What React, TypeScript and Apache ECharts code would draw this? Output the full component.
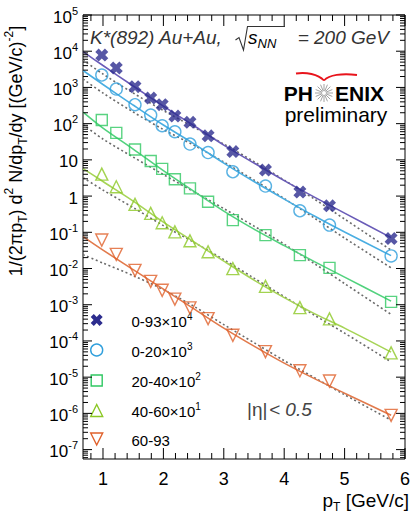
import React, { useEffect, useRef } from "react";
import * as echarts from "echarts";

// Transverse-momentum bins (GeV/c)
const PT = [0.98, 1.22, 1.53, 1.79, 1.98, 2.19, 2.44, 2.74, 3.15, 3.69, 4.26, 4.75, 5.77];

// Invariant yields per centrality class (already scaled as in the legend)
const Y_0_93 = [7850, 3440, 1045, 509, 333, 162, 108.6, 46.3, 16.9, 5.23, 1.29, 0.54, 0.067];
const Y_0_20 = [2200, 903, 333, 173, 87.5, 59.7, 27.3, 15.9, 4.69, 1.89, 0.393, 0.158, 0.0223];
const Y_20_40 = [125.7, 55.7, 19.3, 9.27, 5.64, 2.91, 1.63, 0.697, 0.217, 0.0837, 0.0234, 0.0104, 0.0012];
const Y_40_60 = [4.05, 1.81, 0.59, 0.333, 0.183, 0.103, 0.0582, 0.0289, 0.00993, 0.00322, 0.000832, 0.000406, 0.0000469];
const Y_60_93 = [0.061, 0.0245, 0.00891, 0.00441, 0.0025, 0.00143, 0.00082, 0.000413, 0.000143, 0.0000506, 0.000015, 0.0000078, 8.81e-7];

// Fit curves (solid) and reference curves (dotted), sampled at these pT values
const CURVE_PT = [0.67, 1.0, 1.5, 2.0, 2.5, 3.0, 3.5, 4.0, 4.5, 5.0, 5.77];
const FIT_0_93 = [9690, 4030, 1094, 306, 88.7, 25.6, 8.16, 2.68, 0.938, 0.339, 0.0714];
const FIT_0_20 = [2930, 1203, 326.5, 91.5, 28.2, 8.16, 2.52, 0.826, 0.2805, 0.1014, 0.0227];
const FIT_20_40 = [209, 75.6, 19.9, 5.06, 1.374, 0.385, 0.1225, 0.0429, 0.01552, 0.00578, 0.001256];
const FIT_40_60 = [5.75, 2.52, 0.728, 0.1914, 0.0553, 0.016, 0.00479, 0.00157, 0.000568, 0.000226, 0.0000491];
const FIT_60_93 = [0.076, 0.0322, 0.00933, 0.0027, 0.00078, 0.000226, 0.0000718, 0.0000244, 0.0000091, 0.00000361, 8.91e-7];
const REF_0_93 = [5710, 2345, 700, 230, 80.5, 27.3, 8.97, 2.77, 0.826, 0.232, 0.0322];
const REF_0_20 = [1706, 700, 209, 68.7, 25.6, 8.69, 2.77, 0.853, 0.247, 0.0692, 0.01045];
const REF_20_40 = [94.4, 37.6, 11.94, 3.93, 1.33, 0.452, 0.1483, 0.0472, 0.01365, 0.00383, 0.00054];
const REF_40_60 = [3.24, 1.466, 0.481, 0.1531, 0.0536, 0.0176, 0.00543, 0.00167, 0.000516, 0.000164, 0.0000265];
const REF_60_93 = [0.0242, 0.0141, 0.00637, 0.00261, 0.000914, 0.000282, 0.0000897, 0.0000286, 0.00000968, 0.00000329, 6.49e-7];

// Legend labels: text and power-of-ten superscript
const LABELS = ["0-93×10", "0-20×10", "20-40×10", "40-60×10", "60-93"];
const LABEL_EXP = ["4", "3", "2", "1", ""];

// Axis ranges and ticks
const X_MIN = 0.669;
const X_MAX = 6;
const Y_MIN = 5.5e-8;
const Y_MAX = 1e5;
const X_MAJOR = [1, 2, 3, 4, 5, 6];
const X_MINOR = [0.8, 1.2, 1.4, 1.6, 1.8, 2.2, 2.4, 2.6, 2.8, 3.2, 3.4, 3.6, 3.8, 4.2, 4.4, 4.6, 4.8, 5.2, 5.4, 5.6, 5.8];
const Y_DECADES = [-7, -6, -5, -4, -3, -2, -1, 0, 1, 2, 3, 4, 5];

const FONT = '"Liberation Sans", Arial, Helvetica, sans-serif';

const CROSS = "path://M0,2.6L2.6,0L5,2.4L7.4,0L10,2.6L7.6,5L10,7.4L7.4,10L5,7.6L2.6,10L0,7.4L2.4,5Z";

const STYLES = [
  { marker: "#2d2d8e", line: "#6a5cb8", symbol: CROSS, size: 13, filled: true, rotate: 0 },
  { marker: "#2f9fdc", line: "#4aaee2", symbol: "circle", size: 12, filled: false, rotate: 0 },
  { marker: "#2fc862", line: "#52d27e", symbol: "rect", size: 11, filled: false, rotate: 0 },
  { marker: "#8cc826", line: "#a6d456", symbol: "triangle", size: 12, filled: false, rotate: 0 },
  { marker: "#e0602a", line: "#e27a4c", symbol: "triangle", size: 12, filled: false, rotate: 180 },
];

const POINTS = [Y_0_93, Y_0_20, Y_20_40, Y_40_60, Y_60_93];
const FITS = [FIT_0_93, FIT_0_20, FIT_20_40, FIT_40_60, FIT_60_93];
const REFS = [REF_0_93, REF_0_20, REF_20_40, REF_40_60, REF_60_93];

type Tick = { v: number; major: boolean; d?: number };

const X_TICKS: Tick[] = [
  ...X_MAJOR.map((v) => ({ v, major: true })),
  ...X_MINOR.map((v) => ({ v, major: false })),
];

const Y_TICKS: Tick[] = (() => {
  const out: Tick[] = [];
  for (const d of Y_DECADES) {
    out.push({ v: Math.pow(10, d), major: true, d });
  }
  for (let d = -8; d <= 4; d++) {
    for (let m = 2; m <= 9; m++) {
      const v = m * Math.pow(10, d);
      if (v > Y_MIN && v < Y_MAX) out.push({ v, major: false });
    }
  }
  return out;
})();

const supRich = {
  b: { fontSize: 17, fontFamily: FONT, color: "#000", lineHeight: 24, verticalAlign: "middle" },
  s: { fontSize: 11, fontFamily: FONT, color: "#000", lineHeight: 11, verticalAlign: "top" },
};

function yLabel(d: number): string {
  if (d === 0) return "{b|1}";
  if (d === 1) return "{b|10}";
  return "{b|10}{s|" + d + "}";
}

export default function App() {
  const ref = useRef<HTMLDivElement>(null);

  useEffect(() => {
    if (!ref.current) return;
    const chart = echarts.init(ref.current, undefined, { renderer: "svg" });

    const series: any[] = [];
    STYLES.forEach((st, i) => {
      series.push({
        type: "line",
        name: "fit" + i,
        data: CURVE_PT.map((x, k) => [x, FITS[i][k]]),
        showSymbol: false,
        smooth: 0.3,
        lineStyle: { color: st.line, width: 1.6 },
        z: 3,
      });
      series.push({
        type: "line",
        name: "ref" + i,
        data: CURVE_PT.map((x, k) => [x, REFS[i][k]]),
        showSymbol: false,
        smooth: 0.3,
        lineStyle: { color: "#6a6a6a", width: 1.6, type: [2, 2.6] },
        z: 2,
      });
    });
    STYLES.forEach((st, i) => {
      series.push({
        type: "scatter",
        name: LABELS[i] + LABEL_EXP[i],
        data: PT.map((x, k) => [x, POINTS[i][k]]),
        symbol: st.symbol,
        symbolSize: st.size,
        symbolRotate: st.rotate,
        itemStyle: st.filled
          ? { color: st.marker }
          : { color: "rgba(255,255,255,0)", borderColor: st.marker, borderWidth: 1.4 },
        z: 5,
      });
    });

    // frame ticks on the x axis (bottom and top) with labels
    series.push({
      type: "custom",
      name: "xticks",
      clip: false,
      silent: true,
      z: 10,
      data: X_TICKS.map((t) => [t.v, Y_MIN]),
      renderItem: (params: any, api: any) => {
        const t = X_TICKS[params.dataIndex];
        const b = api.coord([t.v, Y_MIN]);
        const top = api.coord([t.v, Y_MAX]);
        const len = t.major ? 11 : 6;
        const ls = { stroke: "#000", lineWidth: 1 };
        const children: any[] = [
          { type: "line", shape: { x1: b[0], y1: b[1], x2: b[0], y2: b[1] - len }, style: ls },
          { type: "line", shape: { x1: top[0], y1: top[1], x2: top[0], y2: top[1] + len }, style: ls },
        ];
        if (t.major) {
          children.push({
            type: "text",
            x: b[0],
            y: b[1] + 20,
            style: { text: String(t.v), font: "18px " + FONT, fill: "#000", align: "center", verticalAlign: "middle" },
          });
        }
        return { type: "group", children };
      },
    });

    // frame ticks on the y axis (left and right) with decade labels
    series.push({
      type: "custom",
      name: "yticks",
      clip: false,
      silent: true,
      z: 10,
      data: Y_TICKS.map((t) => [X_MIN, t.v]),
      renderItem: (params: any, api: any) => {
        const t = Y_TICKS[params.dataIndex];
        const l = api.coord([X_MIN, t.v]);
        const r = api.coord([X_MAX, t.v]);
        const len = t.major ? 9 : 5;
        const ls = { stroke: "#000", lineWidth: 1 };
        const children: any[] = [
          { type: "line", shape: { x1: l[0], y1: l[1], x2: l[0] + len, y2: l[1] }, style: ls },
          { type: "line", shape: { x1: r[0], y1: r[1], x2: r[0] - len, y2: r[1] }, style: ls },
        ];
        if (t.major && t.d !== undefined) {
          children.push({
            type: "text",
            x: l[0] - 5,
            y: l[1] + 2,
            style: { text: yLabel(t.d), rich: supRich, align: "right", verticalAlign: "middle" },
          });
        }
        return { type: "group", children };
      },
    });

    const titleRich = {
      b: { fontSize: 18, fontFamily: FONT, color: "#000", lineHeight: 26, verticalAlign: "middle" },
      sub: { fontSize: 12, fontFamily: FONT, color: "#000", lineHeight: 12, verticalAlign: "bottom" },
      sup: { fontSize: 12, fontFamily: FONT, color: "#000", lineHeight: 12, verticalAlign: "top" },
    };

    const legendRich = {
      t: { fontSize: 15, fontFamily: FONT, color: "#000", lineHeight: 20, verticalAlign: "middle" },
      s: { fontSize: 10, fontFamily: FONT, color: "#000", lineHeight: 10, verticalAlign: "top" },
    };

    const LEG_X = 96.7;
    const LEG_Y = [320, 350, 380.5, 410.5, 439];
    const legend: any[] = [];
    const lx = (dx: number) => LEG_X + dx;
    // cross
    legend.push({
      type: "polygon",
      shape: {
        points: [
          [0, 2.6], [2.6, 0], [5, 2.4], [7.4, 0], [10, 2.6], [7.6, 5], [10, 7.4], [7.4, 10], [5, 7.6], [2.6, 10], [0, 7.4], [2.4, 5],
        ].map((p) => [lx((p[0] - 5) * 1.2), LEG_Y[0] + (p[1] - 5) * 1.2]),
      },
      style: { fill: STYLES[0].marker },
    });
    legend.push({ type: "circle", shape: { cx: LEG_X, cy: LEG_Y[1], r: 6 }, style: { fill: "none", stroke: STYLES[1].marker, lineWidth: 1.4 } });
    legend.push({ type: "rect", shape: { x: LEG_X - 5.5, y: LEG_Y[2] - 5.5, width: 11, height: 11 }, style: { fill: "none", stroke: STYLES[2].marker, lineWidth: 1.4 } });
    legend.push({ type: "polygon", shape: { points: [[LEG_X, LEG_Y[3] - 6], [LEG_X + 6, LEG_Y[3] + 6], [LEG_X - 6, LEG_Y[3] + 6]] }, style: { fill: "none", stroke: STYLES[3].marker, lineWidth: 1.4 } });
    legend.push({ type: "polygon", shape: { points: [[LEG_X - 6, LEG_Y[4] - 6], [LEG_X + 6, LEG_Y[4] - 6], [LEG_X, LEG_Y[4] + 6]] }, style: { fill: "none", stroke: STYLES[4].marker, lineWidth: 1.4 } });
    LABELS.forEach((lab, i) => {
      legend.push({
        type: "text",
        x: 131.5,
        y: LEG_Y[i] + 1,
        style: {
          text: "{t|" + lab + "}" + (LABEL_EXP[i] ? "{s|" + LABEL_EXP[i] + "}" : ""),
          rich: legendRich,
          align: "left",
          verticalAlign: "middle",
        },
      });
    });

    // star of the logo
    const spokes: any[] = [];
    for (let k = 0; k < 16; k++) {
      const a = (k * Math.PI) / 8;
      spokes.push({
        type: "line",
        shape: { x1: 324 + Math.cos(a) * 2, y1: 93 + Math.sin(a) * 2, x2: 324 + Math.cos(a) * 9, y2: 93 + Math.sin(a) * 9 },
        style: { stroke: "#8a8a8a", lineWidth: 0.8 },
      });
    }

    const graphic: any[] = [
      {
        type: "text",
        x: 16,
        y: 151,
        rotation: Math.PI / 2,
        style: {
          text: "{b|1/(2πp}{sub|T}{b|) d}{sup|2}{b| N/dp}{sub|T}{b|/dy [(GeV/c)}{sup|-2}{b|]}",
          rich: titleRich,
          align: "center",
          verticalAlign: "middle",
        },
      },
      {
        type: "text",
        x: 409,
        y: 500,
        style: {
          text: "{b|p}{sub|T}{b| [GeV/c]}",
          rich: {
            b: { fontSize: 19, fontFamily: FONT, color: "#000", lineHeight: 26, verticalAlign: "middle" },
            sub: { fontSize: 12, fontFamily: FONT, color: "#000", lineHeight: 12, verticalAlign: "bottom" },
          },
          align: "right",
          verticalAlign: "middle",
        },
      },
      {
        type: "text",
        x: 90,
        y: 37.5,
        style: { text: "K*(892) Au+Au,", font: "italic 19px " + FONT, fill: "#333", align: "left", verticalAlign: "middle" },
      },
      {
        type: "polyline",
        shape: { points: [[235.5, 40], [239, 37.5], [243.5, 50], [247.5, 26.5], [285, 26.5]] },
        style: { stroke: "#333", lineWidth: 1.1, fill: "none" },
      },
      {
        type: "text",
        x: 248,
        y: 37.5,
        style: {
          text: "{s|s}{n|NN}",
          rich: {
            s: { fontSize: 19, fontStyle: "italic", fontFamily: FONT, color: "#333", lineHeight: 24, verticalAlign: "middle" },
            n: { fontSize: 13, fontStyle: "italic", fontFamily: FONT, color: "#333", lineHeight: 13, verticalAlign: "bottom" },
          },
          align: "left",
          verticalAlign: "middle",
        },
      },
      {
        type: "text",
        x: 389,
        y: 37.5,
        style: { text: "= 200 GeV", font: "italic 19px " + FONT, fill: "#333", align: "right", verticalAlign: "middle" },
      },
      {
        type: "bezierCurve",
        shape: { x1: 296, y1: 73.5, cpx1: 306, cpy1: 72, cpx2: 318, cpy2: 74, x2: 324, y2: 80.5 },
        style: { stroke: "#e8141c", lineWidth: 1.8, fill: "none" },
      },
      {
        type: "bezierCurve",
        shape: { x1: 324, y1: 80.5, cpx1: 329, cpy1: 75, cpx2: 342, cpy2: 73, x2: 357, y2: 75 },
        style: { stroke: "#e8141c", lineWidth: 1.8, fill: "none" },
      },
      {
        type: "text",
        x: 313,
        y: 93,
        style: { text: "PH", font: "bold 21px " + FONT, fill: "#000", align: "right", verticalAlign: "middle" },
      },
      ...spokes,
      {
        type: "text",
        x: 335,
        y: 93,
        style: { text: "ENIX", font: "bold 21px " + FONT, fill: "#000", align: "left", verticalAlign: "middle" },
      },
      {
        type: "text",
        x: 336,
        y: 114,
        style: { text: "preliminary", font: "21px " + FONT, fill: "#000", align: "center", verticalAlign: "middle" },
      },
      {
        type: "text",
        x: 247,
        y: 409,
        style: { text: "|η|", font: "19px " + FONT, fill: "#444", align: "left", verticalAlign: "middle" },
      },
      {
        type: "text",
        x: 269,
        y: 409,
        style: { text: "< 0.5", font: "italic 19px " + FONT, fill: "#444", align: "left", verticalAlign: "middle" },
      },
      ...legend,
    ];

    chart.setOption({
      animation: false,
      backgroundColor: "#fff",
      grid: { left: 83, right: 7, top: 15, bottom: 55, show: true, borderColor: "#000", borderWidth: 1, backgroundColor: "transparent" },
      xAxis: {
        type: "value",
        min: X_MIN,
        max: X_MAX,
        axisLine: { show: false },
        axisTick: { show: false },
        axisLabel: { show: false },
        splitLine: { show: false },
      },
      yAxis: {
        type: "log",
        logBase: 10,
        min: Y_MIN,
        max: Y_MAX,
        axisLine: { show: false },
        axisTick: { show: false },
        axisLabel: { show: false },
        splitLine: { show: false },
      },
      series,
      graphic,
    });

    return () => chart.dispose();
  }, []);

  return (
    <div
      ref={ref}
      style={{ position: "fixed", left: 0, top: 0, width: 412, height: 514, background: "#fff" }}
    />
  );
}
